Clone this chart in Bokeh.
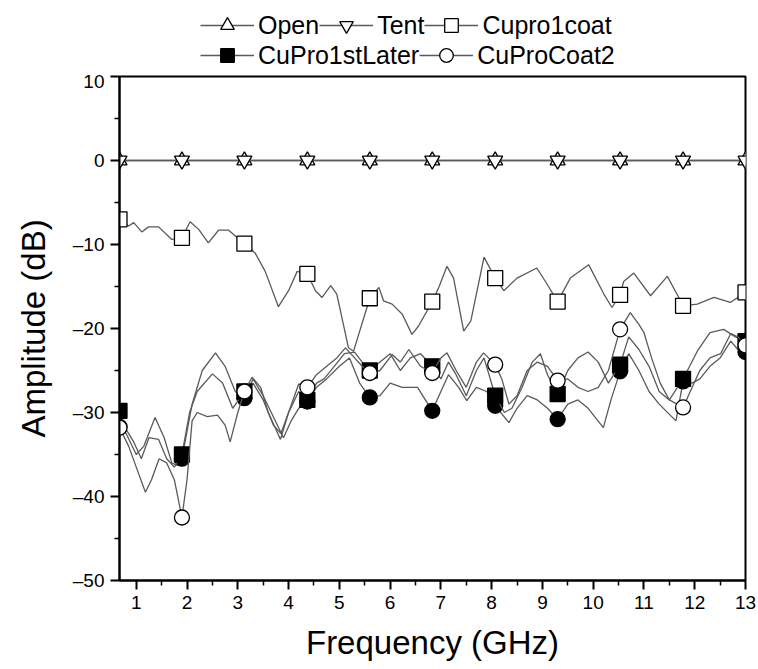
from bokeh.plotting import figure
from bokeh.layouts import column
from bokeh.models import Range1d, FixedTicker, Legend, LegendItem
from bokeh.embed import file_html
from bokeh.resources import INLINE

# ---------------- data ----------------
mark_x = [0.67, 1.9, 3.13, 4.37, 5.6, 6.83, 8.07, 9.3, 10.53, 11.77, 13.0]

open_y = [0, 0, 0, 0, 0, 0, 0, 0, 0, 0, 0]
tent_y = [0, 0, 0, 0, 0, 0, 0, 0, 0, 0, 0]

cupro1coat_x = [0.67, 0.85, 0.95, 1.11, 1.24, 1.44, 1.70, 1.9, 2.06, 2.23, 2.42, 2.62,
                2.82, 3.13, 3.34, 3.54, 3.80, 4.0, 4.17, 4.37, 4.53, 4.66, 4.83, 4.95,
                5.18, 5.28, 5.6, 5.78, 5.87, 6.04, 6.24, 6.43, 6.56, 6.83, 6.96, 7.12,
                7.25, 7.45, 7.59, 7.85, 8.07, 8.24, 8.50, 8.89, 9.09, 9.3, 9.55, 9.91,
                10.21, 10.37, 10.53, 10.6, 10.8, 11.13, 11.46, 11.65, 11.77, 12.05,
                12.38, 12.7, 13.0]
cupro1coat_y = [-7.0, -7.8, -7.4, -8.5, -7.9, -7.9, -9.4, -9.2, -7.3, -8.2, -9.8, -8.3,
                -8.3, -9.9, -11.0, -13.2, -17.4, -15.5, -13.2, -13.5, -15.5, -16.3, -14.9, -15.9,
                -22.3, -22.7, -16.4, -15.1, -16.7, -17.1, -18.3, -20.7, -19.7, -16.8, -15.1, -12.6,
                -14.0, -20.3, -19.1, -11.5, -14.0, -15.5, -14.0, -12.8, -14.7, -16.8, -14.0, -12.4,
                -15.9, -17.5, -16.0, -14.4, -13.4, -16.1, -13.8, -15.9, -17.3, -17.1,
                -16.3, -16.9, -15.7]
cupro1coat_mark = [-7.0, -9.2, -9.9, -13.5, -16.4, -16.8, -14.0, -16.8, -16.0, -17.3, -15.7]

cupro1stlater_x = [0.67, 0.8, 0.95, 1.1, 1.25, 1.44, 1.6, 1.75, 1.9, 2.05, 2.2, 2.5, 2.7,
                   2.9, 3.13, 3.3, 3.5, 3.7, 3.85, 4.0, 4.2, 4.37, 4.55, 4.7, 4.9, 5.1,
                   5.3, 5.45, 5.6, 5.8, 6.0, 6.2, 6.4, 6.6, 6.83, 7.0, 7.15, 7.3, 7.5,
                   7.7, 7.85, 8.07, 8.25, 8.4, 8.6, 8.8, 8.96, 9.1, 9.3, 9.5, 9.7, 9.9,
                   10.1, 10.3, 10.53, 10.7, 10.9, 11.1, 11.3, 11.5, 11.77, 11.9, 12.05,
                   12.3, 12.57, 12.8, 13.0]
cupro1stlater_y = [-29.8, -32.0, -33.5, -35.5, -33.0, -33.2, -35.5, -36.5, -35.0, -30.0, -27.5, -25.4, -26.5,
                   -29.5, -27.5, -26.5, -28.5, -31.5, -32.5, -30.0, -27.5, -28.5, -26.5, -26.0, -24.5, -23.0,
                   -22.8, -24.0, -25.0, -24.0, -23.0, -25.0, -23.5, -23.0, -24.5, -26.0, -24.0, -25.5, -28.0,
                   -25.0, -23.5, -28.0, -30.0, -29.5, -27.0, -24.0, -23.0, -25.5, -27.8, -25.0, -23.5, -22.8,
                   -24.0, -26.5, -24.3, -21.0, -22.5, -24.5, -27.5, -28.5, -26.0, -24.5, -22.7,
                   -20.5, -20.1, -21.0, -21.5]
cupro1stlater_mark = [-29.8, -35.0, -27.5, -28.5, -25.0, -24.5, -28.0, -27.8, -24.3, -26.0, -21.5]

cuprocoat2_x = [0.67, 0.85, 1.0, 1.18, 1.3, 1.45, 1.6, 1.75, 1.9, 2.0, 2.1, 2.2, 2.4, 2.6,
                2.75, 2.85, 3.0, 3.13, 3.28, 3.45, 3.6, 3.75, 3.84, 4.0, 4.2, 4.37, 4.55,
                4.75, 4.95, 5.12, 5.3, 5.45, 5.6, 5.8, 6.04, 6.2, 6.37, 6.6, 6.83, 7.0,
                7.12, 7.3, 7.5, 7.7, 7.84, 8.07, 8.2, 8.34, 8.5, 8.7, 8.9, 9.1, 9.3,
                9.5, 9.7, 9.9, 10.1, 10.3, 10.53, 10.73, 10.9, 11.0, 11.15, 11.32, 11.5,
                11.77, 11.95, 12.1, 12.3, 12.51, 12.71, 12.85, 13.0]
cuprocoat2_y = [-31.8, -34.0, -36.5, -39.5, -38.0, -35.5, -36.0, -38.0, -42.5, -38.0, -31.0, -30.0, -30.5, -30.3,
                -31.5, -33.5, -30.0, -27.5, -25.8, -27.0, -30.0, -32.0, -33.2, -30.0, -26.6, -27.0, -25.5,
                -24.5, -23.5, -22.3, -23.5, -24.5, -25.3, -25.0, -23.1, -24.0, -22.5, -24.5, -25.3, -23.5,
                -22.9, -25.0, -27.0, -24.0, -22.9, -24.3, -26.0, -29.0, -28.0, -25.0, -24.0, -24.5, -26.2,
                -26.0, -27.0, -27.5, -27.0, -25.0, -20.1, -18.1, -19.5, -20.5, -23.5, -26.5, -28.5,
                -29.4, -27.0, -25.0, -23.5, -23.0, -20.6, -21.0, -22.0]
cuprocoat2_mark = [-31.8, -42.5, -27.5, -27.0, -25.3, -25.3, -24.3, -26.2, -20.1, -29.4, -22.0]

# sixth trace (filled circles), not named in the reference legend
extra_x = [0.67, 0.8, 1.0, 1.15, 1.37, 1.55, 1.7, 1.8, 1.9, 2.1, 2.3, 2.56, 2.75, 2.95,
           3.13, 3.3, 3.5, 3.7, 3.9, 4.05, 4.2, 4.37, 4.55, 4.75, 5.0, 5.2, 5.4, 5.6,
           5.8, 6.0, 6.24, 6.54, 6.83, 7.0, 7.15, 7.35, 7.51, 7.7, 7.9, 8.07, 8.34,
           8.5, 8.7, 8.9, 9.1, 9.3, 9.5, 9.7, 9.9, 10.2, 10.35, 10.53, 10.7, 10.9,
           11.1, 11.3, 11.63, 11.77, 11.95, 12.1, 12.3, 12.5, 12.71, 12.85, 13.0]
extra_y = [-31.7, -32.5, -35.0, -34.0, -30.6, -33.0, -36.0, -36.3, -35.5, -29.0, -25.0, -22.9, -24.5, -27.5,
           -28.3, -26.0, -28.0, -30.5, -33.0, -31.0, -29.5, -28.7, -27.0, -26.0, -24.5, -23.5, -26.5, -28.2,
           -28.0, -26.5, -27.0, -27.0, -29.8, -27.5, -25.5, -27.0, -28.6, -27.0, -27.5, -29.2, -31.2,
           -29.5, -28.0, -28.5, -29.5, -30.8, -29.0, -28.5, -29.5, -31.8, -28.5, -25.1, -23.0, -25.0,
           -27.5, -29.0, -31.0, -26.3, -26.5, -26.0, -24.5, -23.5, -21.5, -22.5, -22.8]
extra_mark = [-31.7, -35.5, -28.3, -28.7, -28.2, -29.8, -29.2, -30.8, -25.1, -26.3, -22.8]

x_ticks = [1, 2, 3, 4, 5, 6, 7, 8, 9, 10, 11, 12, 13]
y_ticks = [-50, -40, -30, -20, -10, 0, 10]
y_tick_labels = ["\u201350", "\u201340", "\u201330", "\u201320", "\u201310", "0", "10"]

# ---------------- styling ----------------
FONT = "Liberation Sans"
LINE = "#5a5a5a"
MS = 15
LEG_H = 70

# ---------------- main figure ----------------
p = figure(width=758, height=669 - LEG_H, output_backend="svg", toolbar_location=None,
           x_range=Range1d(0.67, 13.0), y_range=Range1d(-50, 10),
           min_border_left=119, min_border_right=13, min_border_top=76 - LEG_H,
           min_border_bottom=89)
p.grid.visible = False
p.outline_line_color = "black"
p.outline_line_width = 2
p.background_fill_color = "white"
p.border_fill_color = "white"

for ax in (p.xaxis[0], p.yaxis[0]):
    ax.axis_line_width = 2
    ax.axis_line_color = "black"
    ax.major_tick_line_width = 2
    ax.minor_tick_line_width = 1.5
    ax.major_tick_in = 0
    ax.minor_tick_in = 0
    ax.major_tick_out = 9
    ax.minor_tick_out = 5
    ax.major_label_text_font = FONT
    ax.major_label_text_font_size = "19px"
    ax.major_label_text_color = "black"
    ax.axis_label_text_font = FONT
    ax.axis_label_text_font_size = "33px"
    ax.axis_label_text_font_style = "normal"
    ax.axis_label_text_color = "black"

p.xaxis.ticker = FixedTicker(ticks=x_ticks, minor_ticks=[v + 0.5 for v in x_ticks[:-1]])
p.yaxis.ticker = FixedTicker(ticks=y_ticks, minor_ticks=[v + 5 for v in y_ticks[:-1]])
p.yaxis.major_label_overrides = {t: l for t, l in zip(y_ticks, y_tick_labels)}
p.xaxis.axis_label = "Frequency (GHz)"
p.yaxis.axis_label = "Amplitude (dB)"
p.xaxis.major_label_standoff = 6
p.yaxis.major_label_standoff = 6
p.xaxis.axis_label_standoff = 12
p.yaxis.axis_label_standoff = 18


def series(fig, xs, ys, mx, my, marker, fill):
    ln = fig.line(xs, ys, line_color=LINE, line_width=1.3)
    sc = fig.scatter(mx, my, marker=marker, size=MS, line_color="black",
                     line_width=1.3, fill_color=fill)
    return [ln, sc]


series(p, cupro1coat_x, cupro1coat_y, mark_x, cupro1coat_mark, "square", "white")
series(p, extra_x, extra_y, mark_x, extra_mark, "circle", "black")
series(p, cupro1stlater_x, cupro1stlater_y, mark_x, cupro1stlater_mark, "square", "black")
series(p, cuprocoat2_x, cuprocoat2_y, mark_x, cuprocoat2_mark, "circle", "white")
series(p, mark_x, open_y, mark_x, open_y, "triangle", "white")
series(p, mark_x, tent_y, mark_x, tent_y, "inverted_triangle", "white")

# ---------------- legend strip above the plot ----------------
lf = figure(width=758, height=LEG_H, output_backend="svg", toolbar_location=None,
            x_range=Range1d(0, 1), y_range=Range1d(0, 1),
            x_axis_type=None, y_axis_type=None, min_border=0)
lf.grid.visible = False
lf.outline_line_color = None
lf.background_fill_color = "white"
lf.border_fill_color = "white"

# legend sample glyphs: placed outside the visible range of the strip
off = [5, 6]
lg_open = series(lf, off, off, off, off, "triangle", "white")
lg_tent = series(lf, off, off, off, off, "inverted_triangle", "white")
lg_c1 = series(lf, off, off, off, off, "square", "white")
lg_later = series(lf, off, off, off, off, "square", "black")
lg_coat2 = series(lf, off, off, off, off, "circle", "white")


def make_legend(items, loc):
    return Legend(items=items, orientation="horizontal", location=loc,
                  label_text_font=FONT, label_text_font_size="25px",
                  label_text_color="black",
                  glyph_width=54, glyph_height=34, label_standoff=4, spacing=0,
                  padding=0, margin=0, border_line_color=None,
                  background_fill_alpha=0)


# frame of this strip is aligned with the main frame (starts at x = 119)
leg1 = make_legend([LegendItem(label="Open", renderers=lg_open),
                    LegendItem(label="Tent", renderers=lg_tent),
                    LegendItem(label="Cupro1coat", renderers=lg_c1)], (81, 28))
leg2 = make_legend([LegendItem(label="CuPro1stLater", renderers=lg_later),
                    LegendItem(label="CuProCoat2", renderers=lg_coat2)], (81, -2))
lf.add_layout(leg1)
lf.add_layout(leg2)

layout = column(lf, p, spacing=0)
open("out.html", "w").write(file_html(layout, INLINE))
